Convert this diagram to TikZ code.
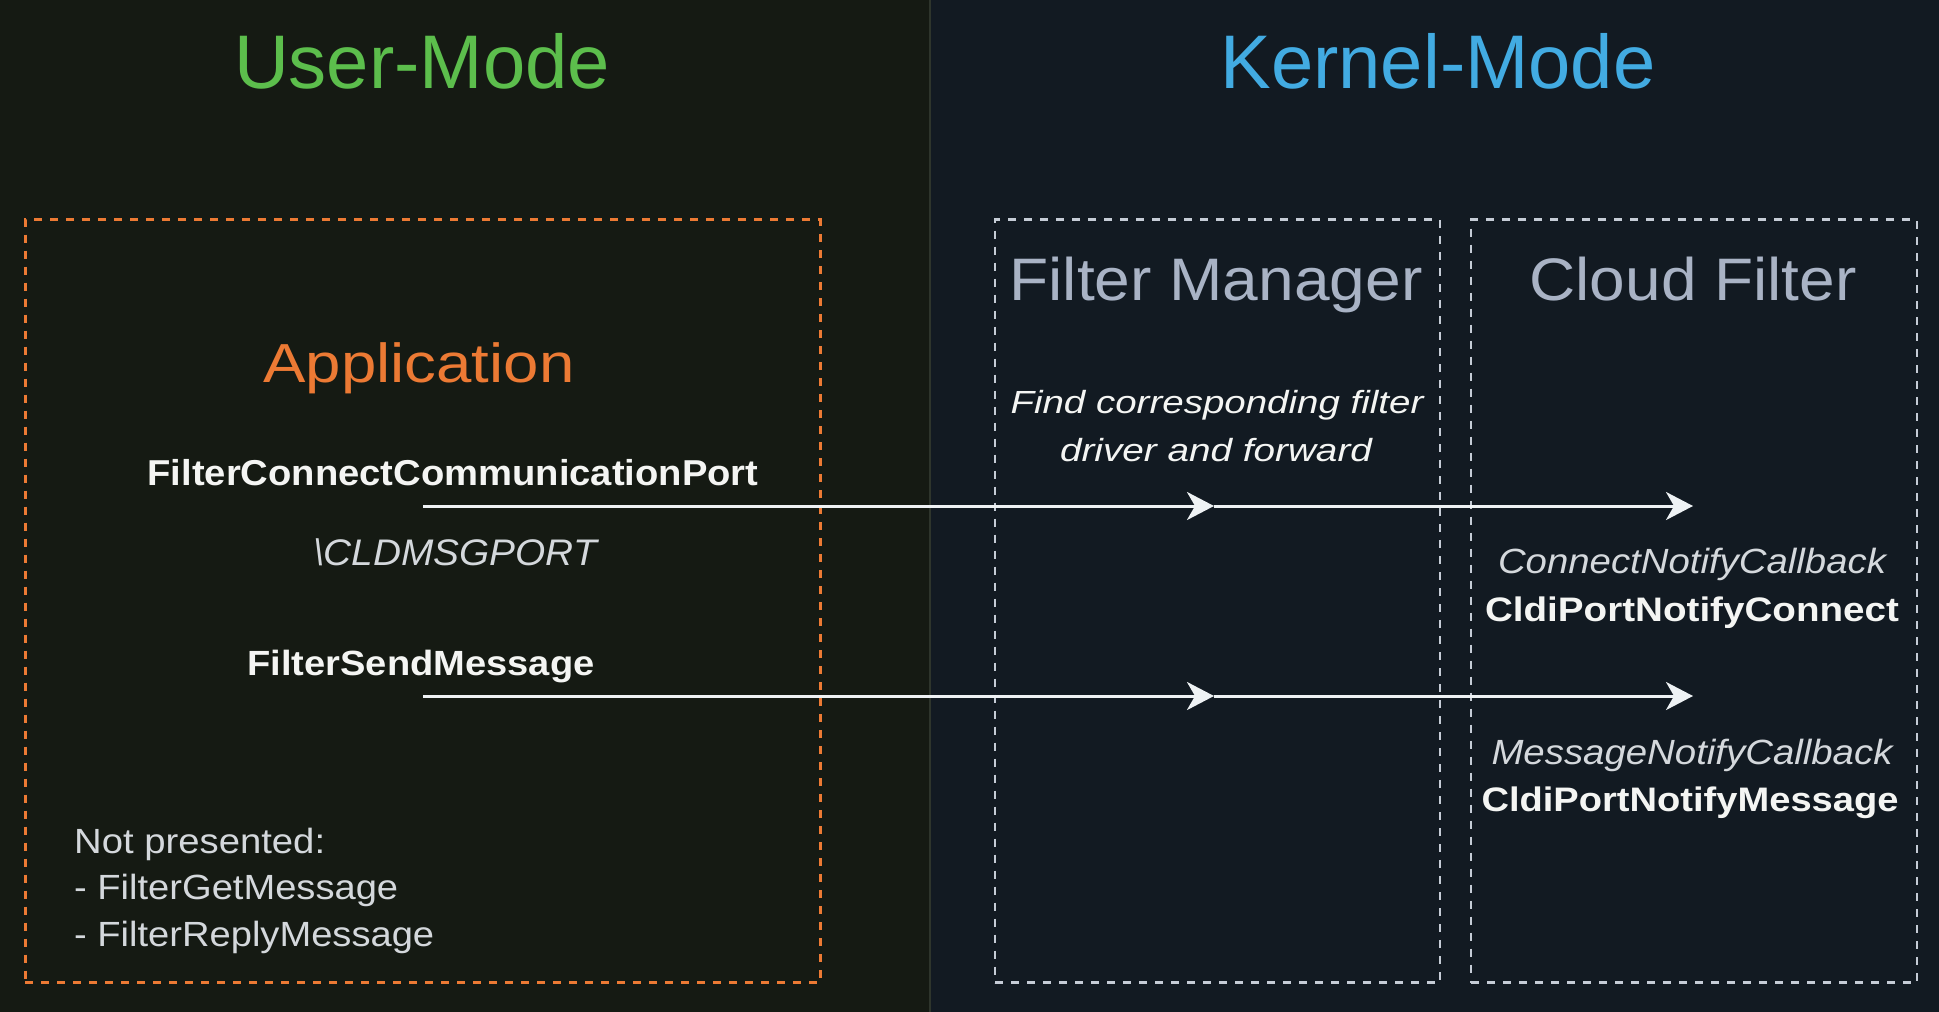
\documentclass[tikz,border=0pt]{standalone}
\usepackage{fontspec}
\setmainfont{Liberation Sans}
\usepackage{graphicx}
\usetikzlibrary{arrows.meta}
\definecolor{bgleft}{HTML}{151A13}
\definecolor{bgright}{HTML}{121A22}
\definecolor{divider}{HTML}{2E352C}
\definecolor{umgreen}{HTML}{5CBE4C}
\definecolor{kmblue}{HTML}{42ABE2}
\definecolor{apporange}{HTML}{EC7A34}
\definecolor{hdrgray}{HTML}{A9B3C5}
\definecolor{boxgray}{HTML}{C5CCD6}
\definecolor{txtwhite}{HTML}{F4F5F3}
\definecolor{txtgray}{HTML}{D4D8DC}
\definecolor{arrowwhite}{HTML}{EEF2F4}
\newcommand\wfit[2]{\resizebox{#1pt}{\height}{#2}}
\tikzset{
  lbl/.style={inner sep=0pt, anchor=base},
  modetitle/.style={lbl, font=\fontsize{76}{90}\selectfont},
  header/.style={lbl, text=hdrgray, font=\fontsize{60}{70}\selectfont},
  boldlbl/.style={lbl, text=txtwhite, font=\fontsize{35}{42}\selectfont\bfseries},
  itlbl/.style={lbl, text=txtgray, font=\fontsize{35}{42}\selectfont\itshape},
  notelbl/.style={inner sep=0pt, anchor=base west, text=txtgray, font=\fontsize{35}{42}\selectfont},
  dashbox/.style={draw, inner sep=0pt, line width=3pt, dash pattern=on 8pt off 8pt},
  flow/.style={draw=arrowwhite, line width=3pt,
    -{Stealth[length=27pt, width=28pt, inset=8pt]}},
}
\begin{document}
\begin{tikzpicture}[x=1pt, y=-1pt]
\useasboundingbox (0,0) rectangle (1939,1012);
% backgrounds
\fill[bgleft] (0,0) rectangle (930,1012);
\fill[bgright] (930,0) rectangle (1939,1012);
\draw[divider, line width=1.5pt] (930,0) -- (930,1012);

% titles
\node[modetitle, text=umgreen] (um) at (422,88) {User-Mode};
\node[modetitle, text=kmblue] (km) at (1438,88) {Kernel-Mode};

% boxes
\node[dashbox, draw=apporange, minimum width=795pt, minimum height=763pt] (appbox) at (422.5,601) {};
\node[dashbox, draw=boxgray, line width=2.6pt, minimum width=445pt, minimum height=763pt] (fmbox) at (1217.5,601) {};
\node[dashbox, draw=boxgray, line width=2.6pt, minimum width=446pt, minimum height=763pt] (cfbox) at (1694,601) {};

% headers
\node[lbl, text=apporange, font=\fontsize{55}{64}\selectfont] (app) at (419,382) {\wfit{311}{Application}};
\node[header] (fm) at (1216,300) {\wfit{413}{Filter Manager}};
\node[header] (cf) at (1693,300) {\wfit{327}{Cloud Filter}};

% connectors
\coordinate (c1s) at (423,506);
\coordinate (c1m) at (1214,506);
\coordinate (c1e) at (1693,506);
\coordinate (c2s) at (423,696);
\coordinate (c2m) at (1214,696);
\coordinate (c2e) at (1693,696);
\draw[flow] (c1s) -- (c1m);
\draw[flow] (c1m) -- (c1e);
\draw[flow] (c2s) -- (c2m);
\draw[flow] (c2m) -- (c2e);

% application labels
\node[boldlbl, font=\fontsize{36}{42}\selectfont\bfseries] (fccp) at (453,485) {\wfit{611}{FilterConnectCommunicationPort}};
\node[itlbl, font=\fontsize{37}{44}\selectfont\itshape] (port) at (455,565) {\wfit{284}{\textbackslash CLDMSGPORT}};
\node[boldlbl] (fsm) at (421,675) {\wfit{347}{FilterSendMessage}};
\node[notelbl] (np1) at (74,853) {\wfit{251}{Not presented:}};
\node[notelbl] (np2) at (74,899) {\wfit{324}{- FilterGetMessage}};
\node[notelbl] (np3) at (74,946) {\wfit{360}{- FilterReplyMessage}};

% filter manager note
\node[itlbl, text=txtwhite, font=\fontsize{32}{38}\selectfont\itshape] (fmn1) at (1217,413) {\wfit{413}{Find corresponding filter}};
\node[itlbl, text=txtwhite, font=\fontsize{32}{38}\selectfont\itshape] (fmn2) at (1216,461) {\wfit{312}{driver and forward}};

% cloud filter labels
\node[itlbl] (cnc) at (1692,573) {\wfit{388}{ConnectNotifyCallback}};
\node[boldlbl, font=\fontsize{34}{40}\selectfont\bfseries] (cpnc) at (1692,621) {\wfit{414}{CldiPortNotifyConnect}};
\node[itlbl] (mnc) at (1692,764) {\wfit{401}{MessageNotifyCallback}};
\node[boldlbl, font=\fontsize{34}{40}\selectfont\bfseries] (cpnm) at (1690,811) {\wfit{417}{CldiPortNotifyMessage}};
\end{tikzpicture}
\end{document}
